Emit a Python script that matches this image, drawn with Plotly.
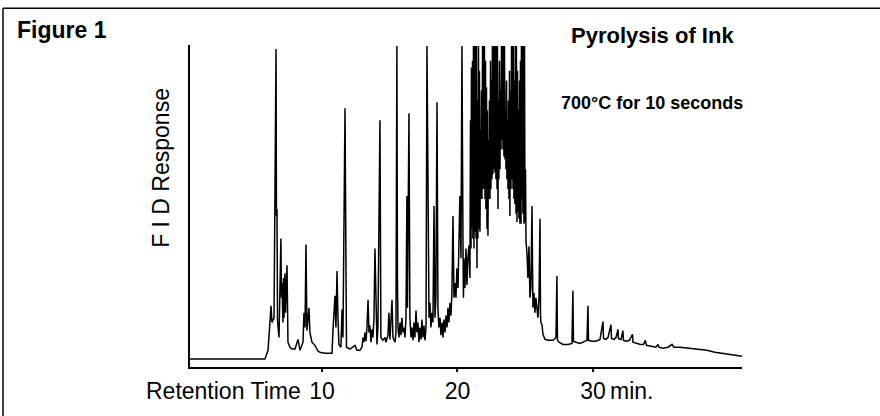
import plotly.graph_objects as go

# Retention time (min) and FID response (arbitrary units, 100 = recorder full scale)
retention_time = [
    0.26, 5.79, 6.02, 6.16, 6.24, 6.31, 6.46, 6.61, 6.64, 6.68, 6.72, 6.83, 6.97, 7.01, 7.05, 7.12, 7.16, 7.20,
    7.27, 7.31, 7.34, 7.42, 7.45, 7.49, 7.64, 7.79, 8.01, 8.23, 8.38, 8.60, 8.67, 8.75, 8.82, 8.89, 9.04, 9.11,
    9.26, 9.48, 9.71, 9.85, 10.22, 10.74, 10.81, 10.96, 11.03, 11.11, 11.18, 11.25, 11.40, 11.48, 11.55, 11.70,
    11.81, 12.07, 12.44, 12.58, 12.80, 12.95, 13.03, 13.10, 13.17, 13.25, 13.32, 13.40, 13.47, 13.54, 13.62,
    13.69, 13.76, 13.84, 13.91, 13.99, 14.06, 14.13, 14.28, 14.35, 14.50, 14.65, 14.72, 14.87, 14.94, 15.02,
    15.17, 15.24, 15.39, 15.46, 15.53, 15.57, 15.61, 15.68, 15.76, 15.83, 15.90, 15.98, 16.05, 16.13, 16.20,
    16.27, 16.31, 16.42, 16.46, 16.49, 16.57, 16.64, 16.72, 16.79, 16.86, 16.94, 17.01, 17.08, 17.16, 17.23,
    17.31, 17.38, 17.45, 17.53, 17.60, 17.68, 17.75, 17.82, 17.86, 17.90, 17.97, 18.04, 18.12, 18.19, 18.27,
    18.34, 18.41, 18.49, 18.56, 18.63, 18.71, 18.78, 18.86, 18.93, 19.00, 19.08, 19.15, 19.23, 19.30, 19.37,
    19.45, 19.52, 19.59, 19.67, 19.74, 19.82, 19.89, 19.96, 20.04, 20.11, 20.18, 20.26, 20.33, 20.41, 20.44,
    20.48, 20.55, 20.63, 20.70, 20.77, 20.85, 20.92,
    20.96, 21.00, 21.03, 21.07, 21.11, 21.14, 21.18, 21.22, 21.26, 21.29, 21.33, 21.37, 21.40, 21.44, 21.48,
    21.51, 21.55, 21.59, 21.62, 21.66, 21.70, 21.73, 21.77, 21.81, 21.85, 21.88, 21.92, 21.96, 21.99, 22.03,
    22.07, 22.10, 22.14, 22.18, 22.21, 22.25, 22.29, 22.33, 22.36, 22.40, 22.44, 22.47, 22.51, 22.55, 22.58,
    22.62, 22.66, 22.69, 22.73, 22.77, 22.80, 22.84, 22.88, 22.92, 22.95, 22.99, 23.03, 23.06, 23.10, 23.14,
    23.17, 23.21, 23.25, 23.28, 23.32, 23.36, 23.40, 23.43, 23.47, 23.51, 23.54, 23.58, 23.62, 23.65, 23.69,
    23.73, 23.76, 23.80, 23.84, 23.87, 23.91, 23.95, 23.99, 24.02, 24.06, 24.10, 24.13, 24.17, 24.21, 24.24,
    24.28, 24.32, 24.35, 24.39, 24.43, 24.47, 24.50, 24.54, 24.58, 24.61, 24.65, 24.69, 24.72, 24.76, 24.80,
    24.83, 24.87, 24.91, 24.95, 24.98, 25.02, 25.06, 25.13, 25.20, 25.28, 25.35, 25.42, 25.50, 25.54, 25.57,
    25.65, 25.72, 25.79, 25.87, 25.94, 26.02, 26.09, 26.13, 26.16, 26.24, 26.31, 26.46, 26.68, 27.05, 27.27,
    27.34, 27.38, 27.49, 27.79, 28.16, 28.45, 28.52, 28.56, 28.75, 29.04, 29.56, 29.63, 29.67, 29.93, 30.22,
    30.52, 30.74, 30.78, 30.96, 31.11, 31.33, 31.37, 31.55, 31.70, 31.85, 31.88, 32.07, 32.21, 32.25, 32.47,
    32.69, 32.92, 32.95, 33.21, 33.51, 33.73, 33.87, 33.95, 34.24, 34.43, 34.65, 34.80, 34.87, 35.17, 35.54,
    35.83, 35.98, 36.42, 37.16, 37.90, 38.41, 39.00, 39.59, 40.26, 41.00,
]

fid_response = [
    0, 0, 2.8, 14.8, 17.0, 11.7, 13.2, 99.0, 45.7, 47.9, 12.3, 6.9, 38.5, 19.6, 24.3, 11.7, 25.9, 13.2,
    27.4, 14.8, 22.7, 30.0, 19.6, 5.4, 3.8, 3.2, 3.2, 6.3, 2.8, 5.4, 14.8, 10.1, 36.6, 9.1, 16.4, 8.5,
    5.4, 4.4, 2.5, 2.2, 1.9, 1.9, 9.1, 20.2, 10.1, 28.1, 13.2, 4.7, 3.8, 15.8, 6.9, 80.1,
    3.8, 3.2, 4.4, 2.8, 2.8, 3.8, 6.9, 5.4, 8.5, 5.7, 10.1, 18.9, 8.5, 10.7, 5.4,
    9.5, 6.9, 13.2, 35.3, 10.1, 4.7, 10.1, 76.3, 6.9, 6.0, 6.9, 5.4, 7.6, 14.8, 6.3,
    18.9, 6.9, 5.4, 8.5, 100, 25.9, 10.1, 6.9, 11.7, 7.6, 13.2, 8.5, 10.1, 6.9, 13.2,
    52.1, 16.4, 78.5, 46.4, 13.2, 6.9, 10.1, 6.0, 11.7, 6.9, 15.5, 8.5, 11.7, 5.4, 10.1,
    6.3, 12.6, 6.9, 10.7, 6.0, 10.1, 100, 38.5, 19.6, 13.2, 18.0, 10.1, 14.8, 11.7, 48.9,
    13.2, 19.6, 82.0, 16.4, 10.1, 13.2, 7.6, 11.7, 6.9, 12.6, 8.5, 13.9, 10.1, 16.4, 11.7,
    18.0, 13.9, 21.1, 45.7, 19.6, 24.3, 19.6, 29.0, 22.7, 36.3, 52.1, 32.2, 100, 35.3, 19.6,
    32.2, 22.7, 35.3, 23.7, 32.2, 36.3, 25.9,
    76.3, 35.3, 93.1, 41.6, 95.3, 38.5, 100, 35.3, 100, 40.7, 100, 38.5, 100, 29.0, 82.6,
    38.5, 100, 41.6, 92.1, 40.7, 73.2, 51.1, 85.8, 51.1, 100, 54.3, 100, 54.3, 100, 51.1,
    95.3, 47.9, 86.8, 41.6, 79.5, 39.4, 70.0, 51.1, 82.6, 51.1, 95.3, 54.3, 89.0, 57.4, 100,
    59.0, 100, 60.6, 100, 59.6, 100, 57.4, 100, 54.3, 100, 47.9, 82.6, 57.4, 95.3, 60.6,
    85.8, 66.9, 100, 70.0, 100, 66.9, 100, 64.7, 100, 63.7, 79.5, 60.6, 89.0, 57.4, 76.3,
    54.3, 82.6, 51.1, 92.1, 45.7, 85.8, 54.3, 100, 57.4, 100, 54.3, 100, 51.1, 89.0, 49.5,
    100, 46.4, 100, 43.8, 92.1, 47.0, 79.5, 44.8, 89.0, 43.2, 95.3, 43.2, 100, 51.1, 100,
    46.4, 100, 43.2, 100, 43.8, 60.6, 37.5, 33.8, 25.9, 36.0, 19.6, 22.7, 48.9, 19.6, 16.4,
    21.1, 14.8, 19.6, 14.2, 13.2, 19.6, 44.8, 13.9, 11.7, 11.0, 7.9, 6.3, 6.0, 6.0, 6.9,
    26.5, 6.0, 5.4, 4.7, 4.7, 5.0, 21.8, 5.7, 5.4, 5.0, 6.0, 17.0, 6.0, 5.7, 5.7,
    6.3, 12.0, 6.6, 6.3, 6.9, 11.0, 6.6, 6.3, 6.9, 9.5, 6.6, 6.3, 9.1, 6.0, 5.7,
    6.0, 7.9, 5.4, 5.0, 4.7, 4.7, 6.0, 4.4, 4.1, 3.8, 3.8, 4.7, 3.8, 3.5, 3.8,
    4.7, 3.8, 3.8, 3.5, 3.2, 2.8, 2.2, 1.9, 1.4, 0.9,
]

tick_values = [10, 20, 30]
tick_labels = ["10", "20", "30"]

FONT = "Liberation Sans, Arial, Helvetica, sans-serif"
BOLD_NARROW = "Liberation Sans Narrow, Arial Narrow, Liberation Sans, Arial, sans-serif"

fig = go.Figure()
fig.add_trace(go.Scatter(
    x=retention_time, y=fid_response, mode="lines",
    line=dict(color="black", width=1.5), hoverinfo="skip", showlegend=False,
))

W, H = 880, 416
L, R, T, B = 190, 138, 45, 46
pw, ph = W - L - R, H - T - B

def px(xp):
    return (xp - L) / pw

def py(yp):
    return (H - B - yp) / ph

fig.update_layout(
    width=W, height=H,
    margin=dict(l=L, r=R, t=T, b=B),
    paper_bgcolor="white", plot_bgcolor="white",
    xaxis=dict(
        range=[0.26, 41.0], tickvals=tick_values, ticktext=tick_labels,
        showgrid=False, zeroline=False, showline=True, linecolor="black", linewidth=1.5,
        ticks="outside", ticklen=3, tickcolor="black", tickwidth=1.5,
        tickfont=dict(family=FONT, size=23, color="black"),
    ),
    yaxis=dict(
        range=[-2.52, 100.3], showgrid=False, zeroline=False, showticklabels=False,
        showline=True, linecolor="black", linewidth=1.5, ticks="",
    ),
    shapes=[
        dict(type="line", xref="paper", yref="paper",
             x0=px(3), x1=px(3), y0=py(450), y1=py(8),
             line=dict(color="black", width=1.5)),
        dict(type="line", xref="paper", yref="paper",
             x0=px(3), x1=px(900), y0=py(8), y1=py(8),
             line=dict(color="black", width=1.5)),
    ],
    annotations=[
        dict(text="Retention Time", xref="paper", yref="paper", x=px(303), y=py(394),
             xanchor="right", yanchor="middle", showarrow=False,
             font=dict(family=FONT, size=23, color="black")),
        dict(text="min.", xref="paper", yref="paper", x=px(608), y=py(394),
             xanchor="left", yanchor="middle", showarrow=False,
             font=dict(family=FONT, size=23, color="black")),
        dict(text="F I D Response", xref="paper", yref="paper", x=px(161), y=py(169),
             xanchor="center", yanchor="middle", textangle=-90, showarrow=False,
             font=dict(family=FONT, size=23, color="black")),
        dict(text="<b>Figure 1</b>", xref="paper", yref="paper", x=px(15), y=py(30),
             xanchor="left", yanchor="middle", showarrow=False,
             font=dict(family=BOLD_NARROW, size=23, color="black")),
        dict(text="<b>Pyrolysis of Ink</b>", xref="paper", yref="paper", x=px(652), y=py(35),
             xanchor="center", yanchor="middle", showarrow=False,
             font=dict(family=BOLD_NARROW, size=22, color="black")),
        dict(text="<b>700°C for 10 seconds</b>", xref="paper", yref="paper", x=px(652), y=py(104),
             xanchor="center", yanchor="middle", showarrow=False,
             font=dict(family=BOLD_NARROW, size=18, color="black")),
    ],
)

fig.write_html("out.html", config={"displayModeBar": False},
               post_script="document.body.style.margin='0';")
